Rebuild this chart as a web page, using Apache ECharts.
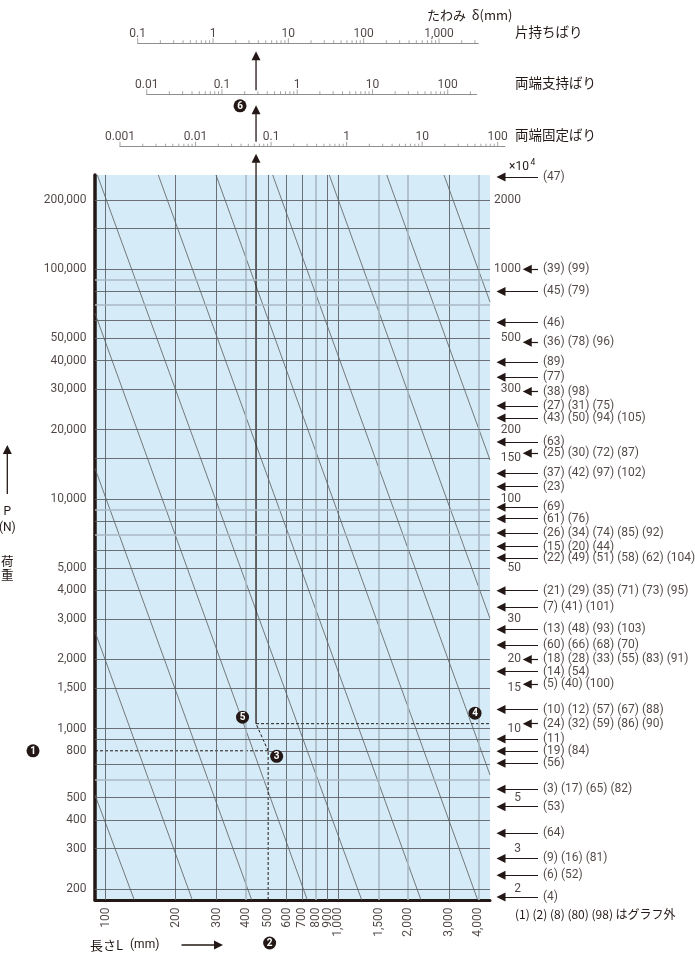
<!DOCTYPE html>
<html>
<head>
<meta charset="utf-8">
<script src="https://cdn.jsdelivr.net/npm/echarts@6/dist/echarts.min.js"></script>
<style>
html,body{margin:0;padding:0;background:#fff;}
#c{width:695px;height:955px;}
</style>
</head>
<body>
<div id="c"></div>
<script>
// ---------------- data ----------------
// main nomograph axes: length L (mm) horizontally, load P (N) vertically (both log)
const lengthRange = [90.13, 4491];
const loadRange = [179.3, 256920];

const lengthTicks = [100, 200, 300, 400, 500, 600, 700, 800, 900, 1000, 1500, 2000, 3000, 4000];
const lengthTickLabels = ['100', '200', '300', '400', '500', '600', '700', '800', '900', '1,000', '1,500', '2,000', '3,000', '4,000'];
const lengthGrayLines = [400, 800, 1500, 2000, 4000];

const loadTicks = [200000, 100000, 50000, 40000, 30000, 20000, 10000, 5000, 4000, 3000, 2000, 1500, 1000, 800, 500, 400, 300, 200];
const loadTickLabels = ['200,000', '100,000', '50,000', '40,000', '30,000', '20,000', '10,000', '5,000', '4,000', '3,000', '2,000', '1,500', '1,000', '800', '500', '400', '300', '200'];
const loadGridLines = [200000, 150000, 100000, 80000, 60000, 50000, 40000, 30000, 20000, 15000, 10000, 8000, 6000, 5000, 4000, 3000, 2000, 1500, 1000, 900, 800, 700, 500, 400, 300, 200];
const loadGrayLines = [90000, 70000, 9000, 7000, 600];

// diagonal guide lines: two [L, P] points each, where they meet the plot border
const diagonal1 = [[92.2, 256920], [1262, 179.3]];
const diagonal2 = [[168.6, 256920], [2269, 179.3]];
const diagonal3 = [[298.5, 256920], [3977, 179.3]];
const diagonal4 = [[523, 256920], [4491, 627.9]];
const diagonal5 = [[915.6, 256920], [4491, 3013]];
const diagonal6 = [[1616, 256920], [4491, 14760]];
const diagonal7 = [[2849, 256920], [4491, 71940]];
const diagonal8 = [[90.13, 64240], [736.9, 179.3]];
const diagonal9 = [[90.13, 13580], [424.9, 179.3]];
const diagonal10 = [[90.13, 2640], [236.1, 179.3]];
const diagonal11 = [[90.13, 513.6], [133.0, 179.3]];
const diagonals = [diagonal1, diagonal2, diagonal3, diagonal4, diagonal5, diagonal6, diagonal7, diagonal8, diagonal9, diagonal10, diagonal11];

// worked example
const exampleLoad = 800;        // ❶
const exampleLength = 500;      // ❷
const examplePoint = [443.5, 1050]; // ❺ meets the ❹ level

// right side: moment of inertia (x10^4 mm^4) and section numbers
const rightScaleValues = [2000, 1000, 500, 300, 200, 150, 100, 50, 30, 20, 15, 10, 5, 3, 2];
const rightScaleLabels = ['2000', '1000', '500', '300', '200', '150', '100', '50', '30', '20', '15', '10', '5', '3', '2'];
const sectionInertia = [2520, 1000, 800, 585, 480, 393, 338, 293, 254, 225, 177, 158, 129, 113, 92, 82, 71, 62, 55.4, 39.8, 33.7, 27, 23.1, 20, 17.7, 15.6, 12.1, 10.5, 9, 7.96, 7.06, 5.44, 4.57, 3.5, 2.72, 2.3, 1.85];
const sectionNumbers = ['(47)', '(39) (99)', '(45) (79)', '(46)', '(36) (78) (96)', '(89)', '(77)', '(38) (98)', '(27) (31) (75)', '(43) (50) (94) (105)', '(63)', '(25) (30) (72) (87)', '(37) (42) (97) (102)', '(23)', '(69)', '(61) (76)', '(26) (34) (74) (85) (92)', '(15) (20) (44)', '(22) (49) (51) (58) (62) (104)', '(21) (29) (35) (71) (73) (95)', '(7) (41) (101)', '(13) (48) (93) (103)', '(60) (66) (68) (70)', '(18) (28) (33) (55) (83) (91)', '(14) (54)', '(5) (40) (100)', '(10) (12) (57) (67) (88)', '(24) (32) (59) (86) (90)', '(11)', '(19) (84)', '(56)', '(3) (17) (65) (82)', '(53)', '(64)', '(9) (16) (81)', '(6) (52)', '(4)'];

// deflection scales (mm)
const cantileverRange = [0.1, 3323];
const cantileverTicks = [0.1, 1, 10, 100, 1000];
const cantileverLabels = ['0.1', '1', '10', '100', '1,000'];
const simpleRange = [0.01, 242.7];
const simpleTicks = [0.01, 0.1, 1, 10, 100];
const simpleLabels = ['0.01', '0.1', '1', '10', '100'];
const fixedRange = [0.001, 125];
const fixedTicks = [0.001, 0.01, 0.1, 1, 10, 100];
const fixedLabels = ['0.001', '0.01', '0.1', '1', '10', '100'];
const minorMultipliers = [2, 3, 4, 5, 6, 7, 8, 9];

// ---------------- styles ----------------
const INK = '#231815';
const BLUE = '#d5ecf8';
const GRID_DARK = '#5e6266';
const GRID_GRAY = '#a9b9c4';
const DIAG = '#5a5a5a';
const SCALE = '#8e8e8e';
const FONT = "Roboto, 'Noto Sans CJK JP', sans-serif";
const CJK = "'Noto Sans CJK JP', sans-serif";
const shortArrowIdx = [1, 4, 7, 11, 23, 25, 27];

function minorTicksOf(decades, max) {
  const out = [];
  decades.forEach(d => minorMultipliers.forEach(m => {
    const v = +(d * m).toPrecision(6);
    if (v < max) out.push(v);
  }));
  return out;
}

const hidden = {axisLine: {show: false}, axisTick: {show: false}, axisLabel: {show: false}, splitLine: {show: false}};

function scaleAxis(gi, range) {
  return {gridIndex: gi, type: 'log', logBase: 10, min: range[0], max: range[1],
    axisLine: {show: true, onZero: false, lineStyle: {color: SCALE, width: 1}},
    axisTick: {show: false}, axisLabel: {show: false}, splitLine: {show: false}};
}
function scaleSeries(gi, ticks, labels, range) {
  return [
    {type: 'scatter', xAxisIndex: gi, yAxisIndex: gi, silent: true, clip: false,
      symbol: 'rect', symbolSize: [1, 5], symbolOffset: [0, -2.5], itemStyle: {color: SCALE},
      data: ticks.map(v => [v, 0]),
      label: {show: true, position: 'top', distance: 1, offset: [0, 2.5], color: INK, fontSize: 12, fontFamily: FONT,
        formatter: p => labels[p.dataIndex]}, z: 5},
    {type: 'scatter', xAxisIndex: gi, yAxisIndex: gi, silent: true, clip: false,
      symbol: 'rect', symbolSize: [1, 3], symbolOffset: [0, -1.5], itemStyle: {color: SCALE},
      data: minorTicksOf(ticks, range[1]).map(v => [v, 0]), z: 5}
  ];
}

// grid lines of the main plot
const [exL, exP] = examplePoint;
const gridMarks = [];
lengthTicks.forEach(v => {
  const gray = lengthGrayLines.includes(v);
  const ls = {color: gray ? GRID_GRAY : GRID_DARK, width: gray ? 1.6 : 0.9, type: 'solid'};
  if (v === exampleLength) {
    gridMarks.push([{coord: [v, exampleLoad], lineStyle: ls}, {coord: [v, loadRange[1]]}]);
  } else {
    gridMarks.push({xAxis: v, lineStyle: ls});
  }
});
loadGridLines.concat(loadGrayLines).forEach(v => {
  const gray = loadGrayLines.includes(v);
  const ls = {color: gray ? GRID_GRAY : GRID_DARK, width: gray ? 1.6 : 0.9, type: 'solid'};
  if (v === exampleLoad) {
    gridMarks.push([{coord: [exampleLength, v], lineStyle: ls}, {coord: [lengthRange[1], v]}]);
  } else {
    gridMarks.push({yAxis: v, lineStyle: ls});
  }
});

const series = [];
series.push({type: 'line', xAxisIndex: 0, yAxisIndex: 0, silent: true, symbol: 'none',
  data: [[lengthRange[0], loadRange[0]]],
  markLine: {silent: true, symbol: 'none', label: {show: false}, animation: false, data: gridMarks}, z: 1});

diagonals.forEach(d => series.push({type: 'line', xAxisIndex: 0, yAxisIndex: 0, silent: true,
  symbol: 'none', data: d, lineStyle: {color: DIAG, width: 0.8}, z: 2}));

const dashed = {color: INK, width: 1, type: [3, 2]};
[
  [[lengthRange[0], exampleLoad], [exampleLength, exampleLoad]],
  [[exampleLength, loadRange[0]], [exampleLength, exampleLoad]],
  [[exampleLength, exampleLoad], [exL, exP]],
  [[exL, exP], [lengthRange[1], exP]]
].forEach(d => series.push({type: 'line', xAxisIndex: 0, yAxisIndex: 0, silent: true, symbol: 'none',
  data: d, lineStyle: dashed, z: 4}));
series.push({type: 'line', xAxisIndex: 0, yAxisIndex: 0, silent: true, symbol: 'none',
  data: [[exL, exP], [exL, loadRange[1]]], lineStyle: {color: INK, width: 1.3}, z: 4});

// axis labels of the main plot
series.push({type: 'scatter', xAxisIndex: 0, yAxisIndex: 0, silent: true, clip: false,
  symbolSize: 1, itemStyle: {color: 'rgba(0,0,0,0)'},
  data: loadTicks.map(v => [lengthRange[0], v]),
  label: {show: true, position: 'left', distance: 8, color: INK, fontSize: 12, fontFamily: FONT,
    formatter: p => loadTickLabels[p.dataIndex]}, z: 5});
series.push({type: 'scatter', xAxisIndex: 0, yAxisIndex: 0, silent: true, clip: false,
  symbolSize: 1, itemStyle: {color: 'rgba(0,0,0,0)'},
  data: lengthTicks.map(v => [v, loadRange[0]]),
  label: {show: true, position: 'bottom', distance: 7, rotate: 90, align: 'right', verticalAlign: 'middle',
    color: INK, fontSize: 12, fontFamily: FONT, formatter: p => lengthTickLabels[p.dataIndex]}, z: 5});

// right side arrows & section numbers
series.push({type: 'scatter', xAxisIndex: 4, yAxisIndex: 4, silent: true, clip: false,
  symbolSize: 1, itemStyle: {color: 'rgba(0,0,0,0)'},
  data: sectionInertia.map(v => [1, v]),
  label: {show: true, position: 'right', distance: 4.5, color: INK, fontSize: 12, fontFamily: FONT,
    formatter: p => sectionNumbers[p.dataIndex]},
  markLine: {silent: true, animation: false, symbol: ['none', 'triangle'], symbolSize: 9,
    label: {show: false}, lineStyle: {color: INK, width: 1.2, type: 'solid'},
    data: sectionInertia.map((v, i) => [{coord: [1, v]}, {coord: [shortArrowIdx.includes(i) ? 0.71 : 0, v]}])},
  z: 5});
series.push({type: 'scatter', xAxisIndex: 4, yAxisIndex: 4, silent: true, clip: false,
  symbolSize: 1, itemStyle: {color: 'rgba(0,0,0,0)'},
  data: rightScaleValues.map(v => [0.58, v]),
  label: {show: true, position: 'left', distance: 1, color: INK, fontSize: 12, fontFamily: FONT,
    formatter: p => rightScaleLabels[p.dataIndex]}, z: 5});

series.push(...scaleSeries(1, cantileverTicks, cantileverLabels, cantileverRange));
series.push(...scaleSeries(2, simpleTicks, simpleLabels, simpleRange));
series.push(...scaleSeries(3, fixedTicks, fixedLabels, fixedRange));

const option = {
  animation: false,
  backgroundColor: '#ffffff',
  textStyle: {fontFamily: FONT},
  grid: [
    {left: 95, top: 175, width: 395, height: 725, show: true, backgroundColor: BLUE, borderWidth: 0},
    {left: 137.7, top: 33.3, width: 340.6, height: 10},
    {left: 146.7, top: 84.3, width: 330, height: 10},
    {left: 120, top: 136.7, width: 385, height: 10},
    {left: 501, top: 175, width: 37, height: 725}
  ],
  xAxis: [
    {gridIndex: 0, type: 'log', logBase: 10, min: lengthRange[0], max: lengthRange[1],
      axisLine: {show: true, onZero: false, lineStyle: {color: INK, width: 3}},
      axisTick: {show: false}, axisLabel: {show: false}, splitLine: {show: false}},
    scaleAxis(1, cantileverRange),
    scaleAxis(2, simpleRange),
    scaleAxis(3, fixedRange),
    Object.assign({gridIndex: 4, type: 'value', min: 0, max: 1}, hidden)
  ],
  yAxis: [
    {gridIndex: 0, type: 'log', logBase: 10, min: loadRange[0], max: loadRange[1],
      axisLine: {show: true, onZero: false, lineStyle: {color: INK, width: 3.5}},
      axisTick: {show: false}, axisLabel: {show: false}, splitLine: {show: false}},
    Object.assign({gridIndex: 1, type: 'value', min: 0, max: 1}, hidden),
    Object.assign({gridIndex: 2, type: 'value', min: 0, max: 1}, hidden),
    Object.assign({gridIndex: 3, type: 'value', min: 0, max: 1}, hidden),
    Object.assign({gridIndex: 4, type: 'log', logBase: 10, min: loadRange[0] / 100, max: loadRange[1] / 100}, hidden)
  ],
  series: series
};

const chart = echarts.init(document.getElementById('c'), null, {renderer: 'canvas', width: 695, height: 955});
chart.setOption(option);

// annotations positioned from the library's scales
const X0 = v => chart.convertToPixel({xAxisIndex: 0}, v);
const Y0 = v => chart.convertToPixel({yAxisIndex: 0}, v);
const B = i => chart.convertToPixel({yAxisIndex: i}, 0);
const xr = X0(exL), yr = Y0(exP);
const yTop = Y0(loadRange[1]);
const b1 = B(1), b2 = B(2), b3 = B(3);
const els = [];
function seg(x1, y1, x2, y2, w) {
  els.push({type: 'line', silent: true, z: 50, shape: {x1, y1, x2, y2}, style: {stroke: INK, lineWidth: w}});
}
function tri(points) {
  els.push({type: 'polygon', silent: true, z: 50, shape: {points}, style: {fill: INK}});
}
function upArrowHead(x, tipY) { tri([[x, tipY], [x - 4.5, tipY + 9], [x + 4.5, tipY + 9]]); }
function txt(t, x, y, opts) {
  els.push({type: 'text', silent: true, z: 50, style: Object.assign({text: t, x, y, fill: INK,
    font: '12px ' + FONT, align: 'left', verticalAlign: 'middle'}, opts || {})});
}
function marker(n, x, y) {
  els.push({type: 'circle', silent: true, z: 60, shape: {cx: x, cy: y, r: 6.5}, style: {fill: INK}});
  els.push({type: 'text', silent: true, z: 61, style: {text: String(n), x: x, y: y + 0.5, fill: '#fff',
    font: 'bold 10px ' + FONT, align: 'center', verticalAlign: 'middle'}});
}

// reading arrow up to the deflection scales
seg(xr, yTop, xr, b3 + 14, 1.3); upArrowHead(xr, b3 + 7);
seg(xr, b3 - 5, xr, b2 + 18, 1.3); upArrowHead(xr, b2 + 11);
seg(xr, b2 - 4, xr, b1 + 15, 1.3); upArrowHead(xr, b1 + 8);

marker(1, 33, Y0(exampleLoad));
marker(2, X0(exampleLength) + 1.5, 943);
marker(3, X0(exampleLength) + 8.5, Y0(exampleLoad) + 5.5);
marker(4, X0(lengthRange[1]) - 15, yr - 10.5);
marker(5, xr - 13.5, yr - 6.5);
marker(6, xr - 16, b2 + 11.5);

// titles and axis names
txt('たわみ  δ(mm)', 427, 15, {font: '13px ' + CJK});
txt('片持ちばり', 515, b1 - 11, {font: '13.5px ' + CJK});
txt('両端支持ばり', 515, b2 - 11, {font: '13.5px ' + CJK});
txt('両端固定ばり', 515, b3 - 12, {font: '13.5px ' + CJK});
txt('×10', 509, 167, {font: '12px ' + FONT});
txt('4', 530.5, 162.5, {font: '8.5px ' + FONT});
txt('(1) (2) (8) (80) (98) はグラフ外', 515, 914, {font: '12px ' + CJK});
txt('長さL', 90, 945, {font: '13px ' + CJK});
txt('(mm)', 130, 945, {font: '12px ' + FONT});
seg(181.5, 945, 216, 945, 1.3); tri([[223, 945], [214, 940.5], [214, 949.5]]);
seg(7.3, 494, 7.3, 452, 1.3); upArrowHead(7.3, 445);
txt('P', 7.3, 512, {align: 'center', font: '12px ' + FONT});
txt('(N)', 7.3, 528, {align: 'center', font: '12px ' + FONT});
txt('荷', 7.3, 561, {align: 'center', font: '12.5px ' + CJK});
txt('重', 7.3, 575, {align: 'center', font: '12.5px ' + CJK});

chart.setOption({graphic: {elements: els}});
</script>
</body>
</html>
